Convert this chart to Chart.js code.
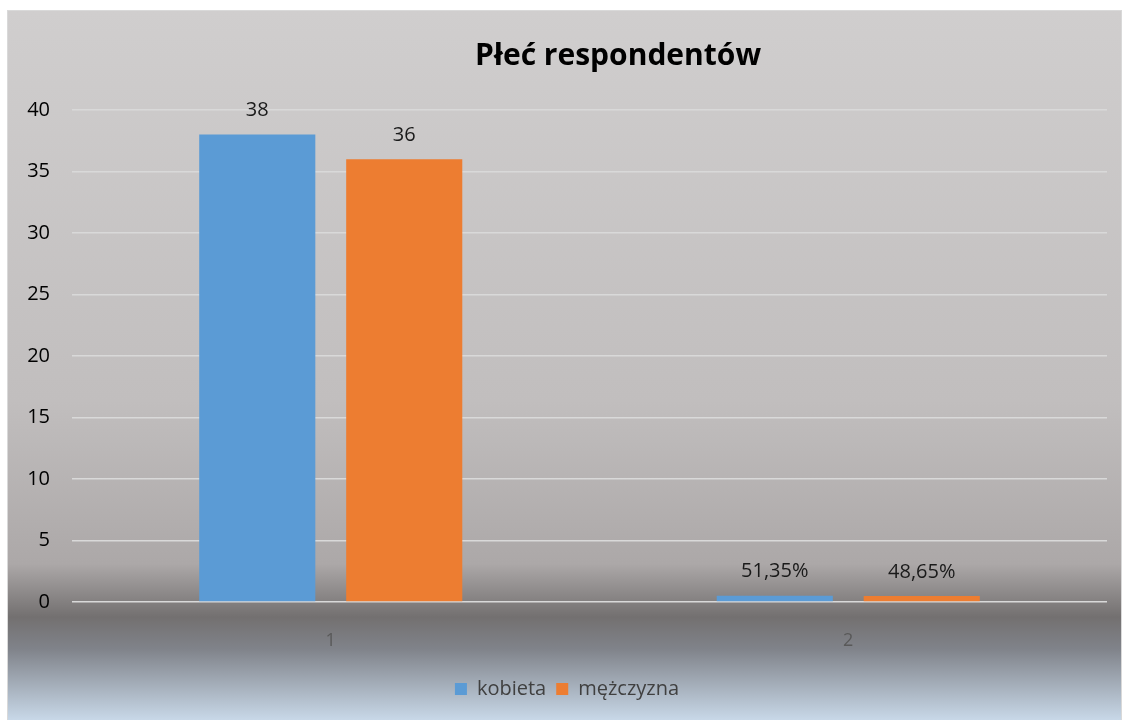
<!DOCTYPE html>
<html>
<head>
<meta charset="utf-8">
<script src="https://cdn.jsdelivr.net/npm/chart.js@4"></script>
<style>
  body { margin: 0; background: #fff; }
  #wrap { position: absolute; left: 7px; top: 10px; width: 1115px; height: 710px; }
</style>
</head>
<body>
<div id="wrap"><canvas id="chart"></canvas></div>
<script>
// Data
const categories = ['1', '2'];
const kobieta = [38, 0.5135];
const mezczyzna = [36, 0.4865];
const kobietaLabels = ['38', '51,35%'];
const mezczyznaLabels = ['36', '48,65%'];
const yTicks = [0, 5, 10, 15, 20, 25, 30, 35, 40];
const titleText = 'Płeć respondentów';

const FONT = "'Open Sans', sans-serif";

// Background gradient like the Excel chart area
const bgPlugin = {
    id: 'bg',
    beforeDraw: function (chart) {
        const ctx = chart.ctx;
        const h = chart.height, w = chart.width;
        const g = ctx.createLinearGradient(0, 0, 0, h);
        g.addColorStop(0, '#d0cece');
        g.addColorStop(0.55, '#c1bebe');
        g.addColorStop(0.78, '#aca8a8');
        g.addColorStop(0.855, '#737070');
        g.addColorStop(0.9, '#80838a');
        g.addColorStop(1, '#c8d8e8');
        ctx.save();
        ctx.fillStyle = g;
        ctx.fillRect(0, 0, w, h);
        ctx.strokeStyle = '#d9d9d9';
        ctx.lineWidth = 1;
        ctx.strokeRect(0.5, 0.5, w - 1, h + 5);
        ctx.restore();
    }
};

// Title and value labels
const textPlugin = {
    id: 'texts',
    afterDatasetsDraw: function (chart) {
        const ctx = chart.ctx;
        ctx.save();
        ctx.font = "bold 30px " + FONT;
        ctx.fillStyle = '#000';
        ctx.textAlign = 'center';
        ctx.textBaseline = 'middle';
        ctx.fillText(titleText, 611, 46);

        const labelSets = [kobietaLabels, mezczyznaLabels];
        ctx.font = "20px " + FONT;
        ctx.fillStyle = '#1a1a1a';
        chart.data.datasets.forEach(function (ds, i) {
            const meta = chart.getDatasetMeta(i);
            meta.data.forEach(function (bar, j) {
                ctx.fillText(labelSets[i][j], bar.x, bar.y - 24);
            });
        });
        ctx.restore();
    }
};

new Chart(document.getElementById('chart'), {
    type: 'bar',
    data: {
        labels: categories,
        datasets: [
            {
                label: 'kobieta',
                data: kobieta,
                backgroundColor: '#5b9bd5',
                borderWidth: 0,
                categoryPercentage: 0.568,
                barPercentage: 0.79
            },
            {
                label: 'mężczyzna',
                data: mezczyzna,
                backgroundColor: '#ed7d31',
                borderWidth: 0,
                categoryPercentage: 0.568,
                barPercentage: 0.79
            }
        ]
    },
    options: {
        responsive: true,
        maintainAspectRatio: false,
        animation: false,
        layout: {
            padding: { left: 20, right: 15, top: 100, bottom: 11 }
        },
        plugins: {
            title: { display: false },
            tooltip: { enabled: false },
            legend: {
                position: 'bottom',
                labels: {
                    color: '#404040',
                    font: { family: FONT, size: 20 },
                    boxWidth: 12,
                    boxHeight: 12,
                    padding: 10
                }
            }
        },
        scales: {
            y: {
                min: 0,
                max: 40,
                afterFit: function (scale) { scale.width = 45; },
                afterBuildTicks: function (scale) {
                    scale.ticks = yTicks.map(function (v) { return { value: v }; });
                },
                grid: {
                    color: '#d9d9d9',
                    lineWidth: 1.5,
                    drawTicks: false
                },
                border: { display: false },
                ticks: {
                    color: '#000',
                    font: { family: FONT, size: 20 },
                    padding: 22
                }
            },
            x: {
                afterFit: function (scale) { scale.height = 67; },
                grid: { display: false },
                border: { display: false },
                ticks: {
                    color: '#595959',
                    font: { family: FONT, size: 18 },
                    padding: 20
                }
            }
        }
    },
    plugins: [bgPlugin, textPlugin]
});
</script>
</body>
</html>
